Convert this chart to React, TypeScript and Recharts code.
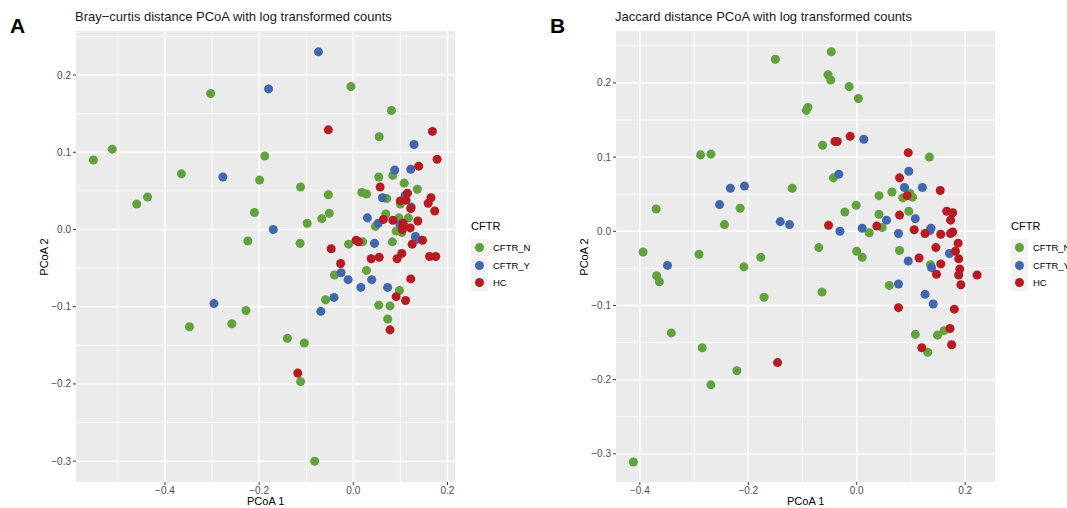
import { CartesianGrid, Scatter, ScatterChart, XAxis, YAxis, ZAxis } from "recharts";

const GREEN = "#62A23E";
const BLUE = "#4367AD";
const RED = "#B71B21";

type Pt = { x: number; y: number };
const pts = (rows: number[][]): Pt[] => rows.map(([x, y]) => ({ x, y }));

const groups = ["CFTR_N", "CFTR_Y", "HC"];
const groupColors = [GREEN, BLUE, RED];

// Bray-curtis PCoA
const brayCftrN = pts([
  [-0.005, 0.185], [0.081, 0.154], [0.055, 0.12], [-0.303, 0.176], [-0.552, 0.09], [-0.512, 0.104],
  [-0.188, 0.095], [-0.365, 0.072], [-0.199, 0.064], [0.054, 0.068], [0.084, 0.07], [0.108, 0.06],
  [-0.46, 0.033], [-0.437, 0.042], [-0.112, 0.055], [0.136, 0.052], [-0.053, 0.045], [0.018, 0.048],
  [0.028, 0.046], [0.071, 0.04], [0.1, 0.033], [-0.21, 0.022], [-0.051, 0.021], [0.069, 0.02],
  [-0.067, 0.014], [0.097, 0.015], [0.117, 0.015], [-0.098, 0.008], [0.047, 0.004], [0.091, -0.002],
  [0.103, -0.004], [-0.224, -0.015], [-0.113, -0.018], [-0.01, -0.019], [0.02, -0.016], [0.083, -0.016],
  [0.028, -0.053], [-0.04, -0.059], [0.098, -0.079], [-0.059, -0.091], [0.054, -0.098], [0.078, -0.099],
  [-0.228, -0.105], [-0.258, -0.122], [-0.348, -0.126], [0.073, -0.116], [-0.14, -0.141], [-0.104, -0.147],
  [-0.112, -0.197], [-0.082, -0.3],
]);
const brayCftrY = pts([
  [-0.074, 0.23], [-0.18, 0.182], [0.129, 0.11], [-0.277, 0.068], [0.122, 0.078], [0.088, 0.077],
  [0.11, 0.044], [0.062, 0.041], [0.123, 0.029], [0.03, 0.015], [0.053, 0.008], [0.099, 0.007],
  [-0.17, 0.0], [0.132, -0.009], [0.133, -0.013], [0.045, -0.018], [-0.026, -0.056], [-0.011, -0.065],
  [0.039, -0.065], [0.016, -0.075], [0.073, -0.075], [-0.041, -0.088], [-0.296, -0.096], [-0.069, -0.106],
]);
const brayHc = pts([
  [-0.053, 0.129], [0.168, 0.127], [0.178, 0.091], [0.139, 0.082], [0.057, 0.055], [0.115, 0.047],
  [0.165, 0.041], [0.1, 0.037], [0.112, 0.038], [0.159, 0.034], [0.122, 0.027], [0.173, 0.024],
  [0.064, 0.013], [0.084, 0.012], [0.137, 0.011], [0.106, 0.008], [0.104, 0.003], [0.121, 0.002],
  [0.104, 0.0], [0.006, -0.014], [0.011, -0.016], [0.125, -0.019], [0.147, -0.014], [-0.047, -0.025],
  [0.038, -0.038], [0.055, -0.036], [0.093, -0.038], [0.103, -0.031], [0.162, -0.035], [0.175, -0.035],
  [-0.027, -0.044], [0.122, -0.064], [0.091, -0.087], [0.111, -0.092], [0.078, -0.13], [-0.118, -0.186],
]);

// Jaccard PCoA
const jaccCftrN = pts([
  [-0.15, 0.232], [-0.047, 0.242], [-0.053, 0.211], [-0.048, 0.204], [-0.014, 0.195], [0.003, 0.179],
  [-0.093, 0.163], [-0.09, 0.167], [-0.063, 0.116], [-0.288, 0.103], [-0.269, 0.104], [0.134, 0.1],
  [-0.043, 0.072], [-0.119, 0.058], [0.041, 0.048], [0.065, 0.053], [0.085, 0.045], [0.098, 0.051],
  [0.103, 0.046], [-0.215, 0.031], [-0.37, 0.03], [-0.001, 0.035], [-0.022, 0.026], [0.096, 0.027],
  [0.041, 0.023], [-0.244, 0.009], [0.023, -0.002], [0.047, 0.005], [-0.394, -0.028], [-0.291, -0.031],
  [-0.07, -0.022], [0.0, -0.027], [0.01, -0.035], [-0.177, -0.035], [-0.208, -0.048], [0.079, -0.026],
  [0.136, -0.045], [-0.369, -0.06], [-0.364, -0.068], [0.06, -0.073], [-0.064, -0.082], [-0.171, -0.089],
  [0.161, -0.134], [-0.342, -0.137], [0.108, -0.139], [0.149, -0.14], [-0.285, -0.157], [0.131, -0.163],
  [-0.221, -0.188], [-0.269, -0.207], [-0.412, -0.311],
]);
const jaccCftrY = pts([
  [0.013, 0.124], [-0.033, 0.077], [0.096, 0.081], [-0.233, 0.058], [-0.207, 0.061], [0.088, 0.059],
  [0.121, 0.059], [-0.253, 0.036], [0.108, 0.017], [0.055, 0.015], [-0.141, 0.013], [-0.124, 0.009],
  [-0.031, 0.0], [0.01, 0.004], [0.077, -0.003], [0.135, 0.001], [0.137, 0.004], [-0.349, -0.046],
  [0.171, -0.03], [0.095, -0.04], [0.138, -0.049], [0.077, -0.071], [0.126, -0.085], [0.141, -0.098],
]);
const jaccHc = pts([
  [-0.04, 0.121], [-0.036, 0.121], [-0.012, 0.128], [0.095, 0.106], [0.079, 0.072], [0.154, 0.055],
  [0.093, 0.048], [0.079, 0.022], [0.166, 0.027], [0.177, 0.025], [0.173, 0.015], [-0.052, 0.008],
  [0.037, 0.007], [0.106, 0.002], [0.126, -0.003], [0.155, -0.004], [0.173, -0.003], [0.177, -0.001],
  [0.187, -0.016], [0.146, -0.022], [0.182, -0.027], [0.115, -0.036], [0.155, -0.044], [0.188, -0.037],
  [0.19, -0.051], [0.147, -0.058], [0.188, -0.059], [0.222, -0.059], [0.192, -0.072], [0.077, -0.103],
  [0.18, -0.105], [0.172, -0.131], [0.175, -0.153], [0.12, -0.157], [-0.146, -0.177],
]);

const xTicks = [-0.4, -0.2, 0, 0.2];
const yTicks = [-0.3, -0.2, -0.1, 0, 0.1, 0.2];
const yMinor = [-0.25, -0.15, -0.05, 0.05, 0.15, 0.25];
const brayXMinor = [-0.5, -0.3, -0.1, 0.1];
const jaccXMinor = [-0.3, -0.1, 0.1];

const fmt = (v: number) => v.toFixed(1).replace("-", "\u2212");
const FONT = "'Liberation Sans', Arial, sans-serif";

function PcoaPanel({
  left,
  width,
  letter,
  title,
  series,
  xDomain,
  yDomain,
  xMinor,
}: {
  left: number;
  width: number;
  letter: string;
  title: string;
  series: Pt[][];
  xDomain: [number, number];
  yDomain: [number, number];
  xMinor: number[];
}) {
  const plotRight = 455;
  return (
    <div style={{ position: "absolute", left, top: 0, width, height: 508 }}>
      <div style={{ position: "absolute", left: 10, top: 14, fontSize: 21, fontWeight: 700, lineHeight: "24px" }}>
        {letter}
      </div>
      <div style={{ position: "absolute", left: 75, top: 9, fontSize: 13, color: "#1a1a1a", whiteSpace: "nowrap" }}>
        {title}
      </div>
      <ScatterChart
        width={width}
        height={508}
        margin={{ top: 31, right: width - plotRight, bottom: 0, left: 0 }}
      >
        <CartesianGrid
          fill="#EBEBEB"
          stroke="#FFFFFF"
          strokeWidth={0.8}
          verticalValues={xMinor}
          horizontalValues={yMinor}
        />
        <CartesianGrid
          stroke="#FFFFFF"
          strokeWidth={1.5}
          verticalValues={xTicks}
          horizontalValues={yTicks}
        />
        <XAxis
          type="number"
          dataKey="x"
          domain={xDomain}
          allowDataOverflow
          ticks={xTicks}
          tickFormatter={fmt}
          height={26}
          axisLine={false}
          tickSize={3}
          tickLine={{ stroke: "#333333" }}
          tick={{ fontSize: 10, fill: "#4D4D4D" }}
        />
        <YAxis
          type="number"
          dataKey="y"
          domain={yDomain}
          allowDataOverflow
          ticks={yTicks}
          tickFormatter={fmt}
          width={76}
          axisLine={false}
          tickSize={3}
          tickLine={{ stroke: "#333333" }}
          tick={{ fontSize: 10, fill: "#4D4D4D" }}
        />
        <ZAxis type="number" range={[66, 66]} />
        {series.map((data, i) => (
          <Scatter
            key={groups[i]}
            name={groups[i]}
            data={data}
            fill={groupColors[i]}
            isAnimationActive={false}
          />
        ))}
      </ScatterChart>
      <div style={{ position: "absolute", left: 247, top: 495, fontSize: 11, lineHeight: "13px", color: "#000" }}>PCoA 1</div>
      <div
        style={{
          position: "absolute",
          left: 44,
          top: 257,
          fontSize: 11,
          color: "#000",
          transform: "translate(-50%, -50%) rotate(-90deg)",
          whiteSpace: "nowrap",
        }}
      >
        PCoA 2
      </div>
      <div style={{ position: "absolute", left: 471, top: 220, fontSize: 11, color: "#000" }}>CFTR</div>
      {groups.map((g, i) => (
        <div key={g} style={{ position: "absolute", left: 471, top: 239 + i * 17.5, height: 17, display: "flex", alignItems: "center" }}>
          <svg width={17} height={17} style={{ display: "block" }}>
            <rect width={17} height={17} fill="#F2F2F2" />
            <circle cx={8.5} cy={8.5} r={4.5} fill={groupColors[i]} />
          </svg>
          <span style={{ marginLeft: 5, fontSize: 9.5, color: "#000", whiteSpace: "nowrap" }}>{g}</span>
        </div>
      ))}
    </div>
  );
}

export default function App() {
  return (
    <div
      style={{
        position: "absolute",
        left: 0,
        top: 0,
        width: 1067,
        height: 508,
        background: "#FFFFFF",
        overflow: "hidden",
        fontFamily: FONT,
      }}
    >
      <PcoaPanel
        left={0}
        width={540}
        letter="A"
        title="Bray−curtis distance PCoA with log transformed counts"
        series={[brayCftrN, brayCftrY, brayHc]}
        xDomain={[-0.589, 0.216]}
        yDomain={[-0.327, 0.257]}
        xMinor={brayXMinor}
      />
      <PcoaPanel
        left={540}
        width={527}
        letter="B"
        title="Jaccard distance PCoA with log transformed counts"
        series={[jaccCftrN, jaccCftrY, jaccHc]}
        xDomain={[-0.444, 0.255]}
        yDomain={[-0.338, 0.27]}
        xMinor={jaccXMinor}
      />
    </div>
  );
}
